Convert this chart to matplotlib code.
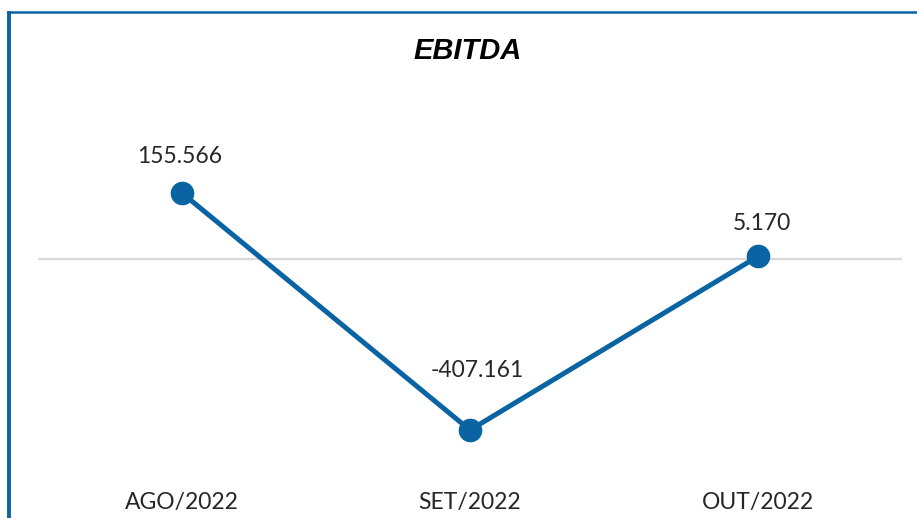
import matplotlib
matplotlib.use("Agg")
import matplotlib.pyplot as plt
from matplotlib.lines import Line2D

categories = ["AGO/2022", "SET/2022", "OUT/2022"]
values = [155566, -407161, 5170]
labels = ["155.566", "-407.161", "5.170"]
title = "EBITDA"

BLUE = "#0A64A3"
TXT = "#262626"

W, H = 917, 518
fig = plt.figure(figsize=(W / 100, H / 100), dpi=100)
fig.patch.set_facecolor("white")

# frame lines (left and top)
fig.add_artist(Line2D([8.8 / W, 8.8 / W], [0, 1 - 11 / H], color=BLUE, lw=2.8,
                      transform=fig.transFigure, solid_capstyle="butt"))
fig.add_artist(Line2D([7 / W, 1], [1 - 12 / H, 1 - 12 / H], color=BLUE, lw=1.8,
                      transform=fig.transFigure, solid_capstyle="butt"))

left, right, top, bottom = 38, 902, 90, 470
ax = fig.add_axes([left / W, 1 - bottom / H, (right - left) / W, (bottom - top) / H])
x = list(range(len(categories)))
ax.plot(x, values, color=BLUE, lw=3.6, marker="o", markersize=16,
        markerfacecolor=BLUE, markeredgecolor=BLUE, zorder=3, solid_capstyle="round")

ax.set_xlim(-0.5, len(categories) - 0.5)
ax.set_ylim(-502000, 400000)
ax.set_yticks([0])
ax.yaxis.grid(True, color="#D9D9D9", lw=1.6)
ax.set_axisbelow(True)
ax.tick_params(axis="y", left=False, labelleft=False)
ax.set_xticks(x)
ax.set_xticklabels(categories, fontsize=16.5, color=TXT, family="Lato")
ax.tick_params(axis="x", bottom=False, pad=12)
for s in ax.spines.values():
    s.set_visible(False)

offsets = [(-2, 19), (5, 35), (3, 16)]
for xi, v, lab, off in zip(x, values, labels, offsets):
    ax.annotate(lab, (xi, v), xytext=off, textcoords="offset points",
                ha="center", va="bottom", fontsize=16.5, color=TXT, family="Lato")

fig.text(468 / W, 1 - 51 / H, title, ha="center", va="center", fontsize=21,
         fontweight="bold", fontstyle="italic", family="Liberation Sans", color="black")

fig.savefig("out.png", dpi=100, facecolor="white")
